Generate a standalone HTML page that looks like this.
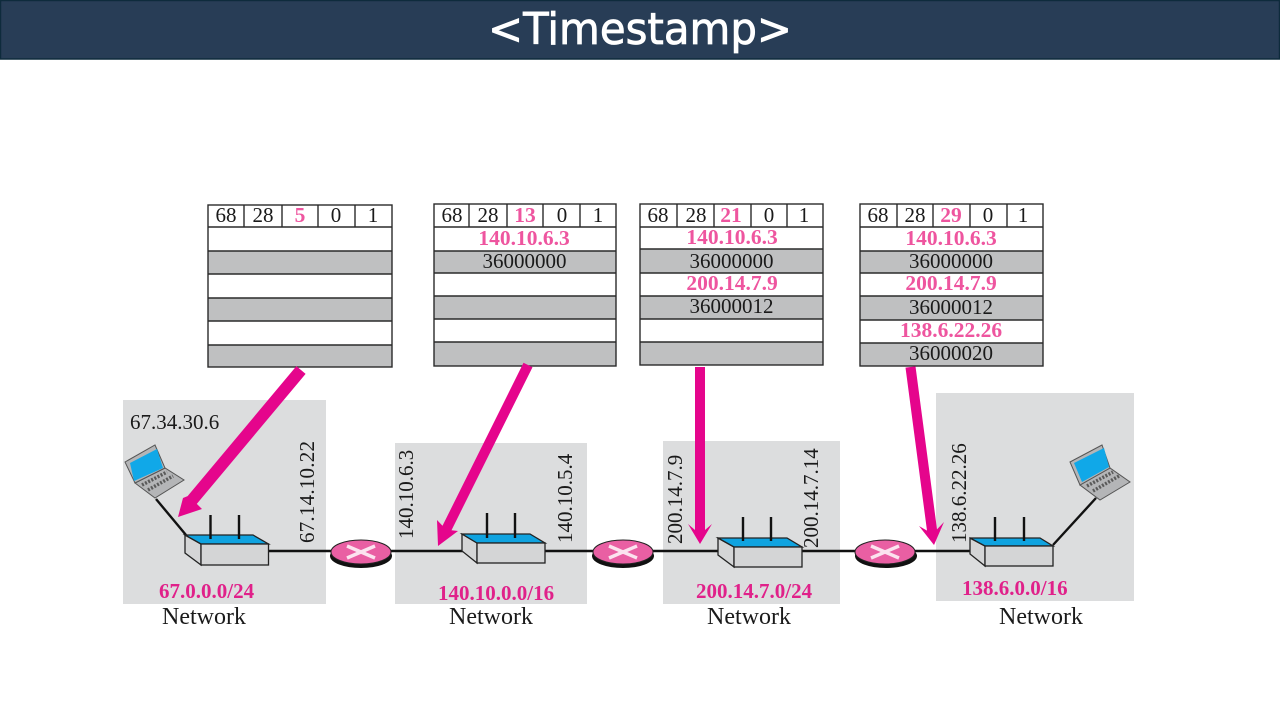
<!DOCTYPE html>
<html><head><meta charset="utf-8"><title>Timestamp</title>
<style>
html,body{margin:0;padding:0;background:#fff;width:1280px;height:720px;overflow:hidden}
svg{display:block}
text{font-family:"Liberation Serif",serif;fill:#1a1a1a;font-size:21px}
.c{text-anchor:middle}
.p{fill:#ee559f;font-weight:bold;text-anchor:middle;font-size:21.5px}
.m{fill:#e0218a;font-weight:bold;font-size:21px}
.n{font-size:24px}
.v{font-size:21px}
.t line{stroke:#2a2a2a;stroke-width:1.4}
.t rect.o{fill:none;stroke:#2a2a2a;stroke-width:1.4}
.g{fill:#bfc0c1}
.r .s{fill:#d4d5d6;stroke:#222;stroke-width:1.3}
.r .b{fill:#0fa3e0;stroke:#222;stroke-width:1.3}
.r line{stroke:#111;stroke-width:2.4}
.w{stroke:#111;stroke-width:2.4;fill:none}
.lap .k{fill:#b4b5b7;stroke:#555;stroke-width:1}
.lap .q{fill:#10a8e8}
.lap .d{stroke:#5a5a5a;stroke-width:3.5;stroke-dasharray:2 1.5;fill:none}
.x{stroke:#fbe3ef;stroke-width:3.4}
.ar{fill:#e5058c}
</style></head><body>
<svg width="1280" height="720" viewBox="0 0 1280 720" xmlns="http://www.w3.org/2000/svg">
<rect x="0.5" y="0.5" width="1279" height="58.5" fill="#283d56" stroke="#0e2b3c" stroke-width="1.5"/>
<text x="640" y="44" text-anchor="middle" textLength="304" lengthAdjust="spacingAndGlyphs" style="font-family:'DejaVu Sans',sans-serif;font-size:44px;fill:#fff;stroke:#fff;stroke-width:0.8">&lt;Timestamp&gt;</text>

<!-- network backgrounds -->
<rect x="123" y="400" width="203" height="204" fill="#dcddde"/>
<rect x="395" y="443" width="192" height="161" fill="#dcddde"/>
<rect x="663" y="441" width="177" height="163" fill="#dcddde"/>
<rect x="936" y="393" width="198" height="208" fill="#dcddde"/>

<!-- table 1 -->
<g class="t">
<rect x="208" y="251" width="184" height="23" class="g"/><rect x="208" y="298" width="184" height="23" class="g"/><rect x="208" y="345" width="184" height="22" class="g"/>
<rect x="208" y="205" width="184" height="162" class="o"/>
<line x1="208" x2="392" y1="227" y2="227"/><line x1="208" x2="392" y1="251" y2="251"/><line x1="208" x2="392" y1="274" y2="274"/><line x1="208" x2="392" y1="298" y2="298"/><line x1="208" x2="392" y1="321" y2="321"/><line x1="208" x2="392" y1="345" y2="345"/>
<line x1="244" x2="244" y1="205" y2="227"/><line x1="282" x2="282" y1="205" y2="227"/><line x1="318" x2="318" y1="205" y2="227"/><line x1="355" x2="355" y1="205" y2="227"/>
<text class="c" x="226" y="222">68</text><text class="c" x="263" y="222">28</text><text class="p" x="300" y="222">5</text><text class="c" x="336" y="222">0</text><text class="c" x="373" y="222">1</text>
</g>
<!-- table 2 -->
<g class="t">
<rect x="434" y="251" width="182" height="22" class="g"/><rect x="434" y="296" width="182" height="23" class="g"/><rect x="434" y="342" width="182" height="24" class="g"/>
<rect x="434" y="204" width="182" height="162" class="o"/>
<line x1="434" x2="616" y1="227" y2="227"/><line x1="434" x2="616" y1="251" y2="251"/><line x1="434" x2="616" y1="273" y2="273"/><line x1="434" x2="616" y1="296" y2="296"/><line x1="434" x2="616" y1="319" y2="319"/><line x1="434" x2="616" y1="342" y2="342"/>
<line x1="469" x2="469" y1="204" y2="227"/><line x1="507" x2="507" y1="204" y2="227"/><line x1="543" x2="543" y1="204" y2="227"/><line x1="580" x2="580" y1="204" y2="227"/>
<text class="c" x="452" y="222">68</text><text class="c" x="488" y="222">28</text><text class="p" x="525" y="222">13</text><text class="c" x="562" y="222">0</text><text class="c" x="598" y="222">1</text>
<text class="p" x="524" y="245">140.10.6.3</text><text class="c" x="524.5" y="268">36000000</text>
</g>
<!-- table 3 -->
<g class="t">
<rect x="640" y="249" width="183" height="24" class="g"/><rect x="640" y="296" width="183" height="23" class="g"/><rect x="640" y="342" width="183" height="23" class="g"/>
<rect x="640" y="204" width="183" height="161" class="o"/>
<line x1="640" x2="823" y1="227" y2="227"/><line x1="640" x2="823" y1="249" y2="249"/><line x1="640" x2="823" y1="273" y2="273"/><line x1="640" x2="823" y1="296" y2="296"/><line x1="640" x2="823" y1="319" y2="319"/><line x1="640" x2="823" y1="342" y2="342"/>
<line x1="677" x2="677" y1="204" y2="227"/><line x1="714" x2="714" y1="204" y2="227"/><line x1="751" x2="751" y1="204" y2="227"/><line x1="787" x2="787" y1="204" y2="227"/>
<text class="c" x="658" y="222">68</text><text class="c" x="696" y="222">28</text><text class="p" x="731" y="222">21</text><text class="c" x="769" y="222">0</text><text class="c" x="804" y="222">1</text>
<text class="p" x="732" y="244">140.10.6.3</text><text class="c" x="731.5" y="268">36000000</text><text class="p" x="732" y="290">200.14.7.9</text><text class="c" x="731.5" y="313">36000012</text>
</g>
<!-- table 4 -->
<g class="t">
<rect x="860" y="251" width="183" height="22" class="g"/><rect x="860" y="296" width="183" height="24" class="g"/><rect x="860" y="343" width="183" height="23" class="g"/>
<rect x="860" y="204" width="183" height="162" class="o"/>
<line x1="860" x2="1043" y1="227" y2="227"/><line x1="860" x2="1043" y1="251" y2="251"/><line x1="860" x2="1043" y1="273" y2="273"/><line x1="860" x2="1043" y1="296" y2="296"/><line x1="860" x2="1043" y1="320" y2="320"/><line x1="860" x2="1043" y1="343" y2="343"/>
<line x1="897" x2="897" y1="204" y2="227"/><line x1="933" x2="933" y1="204" y2="227"/><line x1="970" x2="970" y1="204" y2="227"/><line x1="1007" x2="1007" y1="204" y2="227"/>
<text class="c" x="878" y="222">68</text><text class="c" x="915" y="222">28</text><text class="p" x="951" y="222">29</text><text class="c" x="988" y="222">0</text><text class="c" x="1023" y="222">1</text>
<text class="p" x="951" y="245">140.10.6.3</text><text class="c" x="951" y="268">36000000</text><text class="p" x="951" y="290">200.14.7.9</text><text class="c" x="951" y="314">36000012</text><text class="p" x="951" y="337">138.6.22.26</text><text class="c" x="951" y="360">36000020</text>
</g>

<!-- backbone -->
<line class="w" x1="268" y1="551" x2="1000" y2="551"/>
<line class="w" x1="156" y1="499" x2="186" y2="535"/>
<line class="w" x1="1053" y1="545" x2="1096" y2="498"/>

<!-- switches -->
<g class="r">
<polygon class="s" points="185,535 201,544 201,565 185,553"/>
<polygon class="b" points="185,535 253,535 268.500,544 201,544"/>
<rect class="s" x="201" y="544" width="67.500" height="21"/>
<line x1="210.5" y1="515" x2="210.5" y2="539"/><line x1="239" y1="515" x2="239" y2="539"/>
</g>
<g class="r">
<polygon class="s" points="462,534 477,543 477,563 462,551"/>
<polygon class="b" points="462,534 530,534 545,543 477,543"/>
<rect class="s" x="477" y="543" width="68" height="20"/>
<line x1="487" y1="513" x2="487" y2="538"/><line x1="515" y1="513" x2="515" y2="538"/>
</g>
<g class="r">
<polygon class="s" points="718,538 734,547 734,567 718,555"/>
<polygon class="b" points="718,538 787,538 802,547 734,547"/>
<rect class="s" x="734" y="547" width="68" height="20"/>
<line x1="743" y1="517" x2="743" y2="541"/><line x1="771" y1="517" x2="771" y2="541"/>
</g>
<g class="r">
<polygon class="s" points="970,538 985,546 985,566 970,554"/>
<polygon class="b" points="970,538 1040,538 1053,546 985,546"/>
<rect class="s" x="985" y="546" width="68" height="20"/>
<line x1="995" y1="517" x2="995" y2="541"/><line x1="1024" y1="517" x2="1024" y2="541"/>
</g>

<!-- routers -->
<g>
<ellipse cx="361" cy="556" rx="31" ry="12" fill="#111"/><ellipse cx="361" cy="552" rx="30" ry="12" fill="#e95fa3" stroke="#222" stroke-width="1"/>
<line class="x" x1="347" y1="546" x2="375" y2="558"/><line class="x" x1="347" y1="558" x2="375" y2="546"/>
</g>
<g>
<ellipse cx="623" cy="556" rx="31" ry="12" fill="#111"/><ellipse cx="623" cy="552" rx="30" ry="12" fill="#e95fa3" stroke="#222" stroke-width="1"/>
<line class="x" x1="609" y1="546" x2="637" y2="558"/><line class="x" x1="609" y1="558" x2="637" y2="546"/>
</g>
<g>
<ellipse cx="886" cy="556" rx="31" ry="12" fill="#111"/><ellipse cx="885" cy="552" rx="30" ry="12" fill="#e95fa3" stroke="#222" stroke-width="1"/>
<line class="x" x1="871" y1="546" x2="899" y2="558"/><line class="x" x1="871" y1="558" x2="899" y2="546"/>
</g>

<!-- laptops -->
<g class="lap">
<polygon class="k" points="135,483 165,468 184,480 155,498"/>
<polygon class="k" points="125,462 155,445 165,468 135,483"/>
<polygon class="q" points="130,463 157,449 163,468 134,481"/>
<line class="d" x1="142" y1="485" x2="167" y2="472"/><line class="d" x1="148" y1="490" x2="173" y2="476"/>
</g>
<g class="lap">
<polygon class="k" points="1080,485 1110,468 1130,482 1100,500"/>
<polygon class="k" points="1070,462 1102,445 1110,468 1080,485"/>
<polygon class="q" points="1074,463 1104,448 1109,467 1082,482"/>
<line class="d" x1="1087" y1="486" x2="1113" y2="472"/><line class="d" x1="1093" y1="491" x2="1119" y2="476"/>
</g>

<!-- arrows -->
<g class="ar">
<polygon points="296.400,366.100 305.600,373.900 196.800,503.900 202,509 178,517 183,498 187.600,496.100"/>
<polygon points="523.500,362.800 532.500,367.200 451.500,530.200 458,531 438,546 437,520 442.500,525.800"/>
<polygon points="695,367 705,367 705,530 712,524 700,544 688,524 695,530"/>
<polygon points="905.500,367.600 915.500,366.400 937,529.400 944,522 934,545 919,526 927,530.600"/>
</g>

<!-- labels -->
<text x="130" y="429">67.34.30.6</text>
<text class="v" transform="translate(314,543) rotate(-90)" textLength="102">67.14.10.22</text>
<text class="v" transform="translate(413,539) rotate(-90)">140.10.6.3</text>
<text class="v" transform="translate(572,543) rotate(-90)">140.10.5.4</text>
<text class="v" transform="translate(682,544) rotate(-90)">200.14.7.9</text>
<text class="v" transform="translate(818,548) rotate(-90)">200.14.7.14</text>
<text class="v" transform="translate(966,543) rotate(-90)">138.6.22.26</text>

<text class="m" x="159" y="598">67.0.0.0/24</text>
<text class="m" x="438" y="600">140.10.0.0/16</text>
<text class="m" x="696" y="598">200.14.7.0/24</text>
<text class="m" x="962" y="595">138.6.0.0/16</text>

<text class="n" x="162" y="624">Network</text>
<text class="n" x="449" y="624">Network</text>
<text class="n" x="707" y="624">Network</text>
<text class="n" x="999" y="624">Network</text>
</svg>
</body></html>
